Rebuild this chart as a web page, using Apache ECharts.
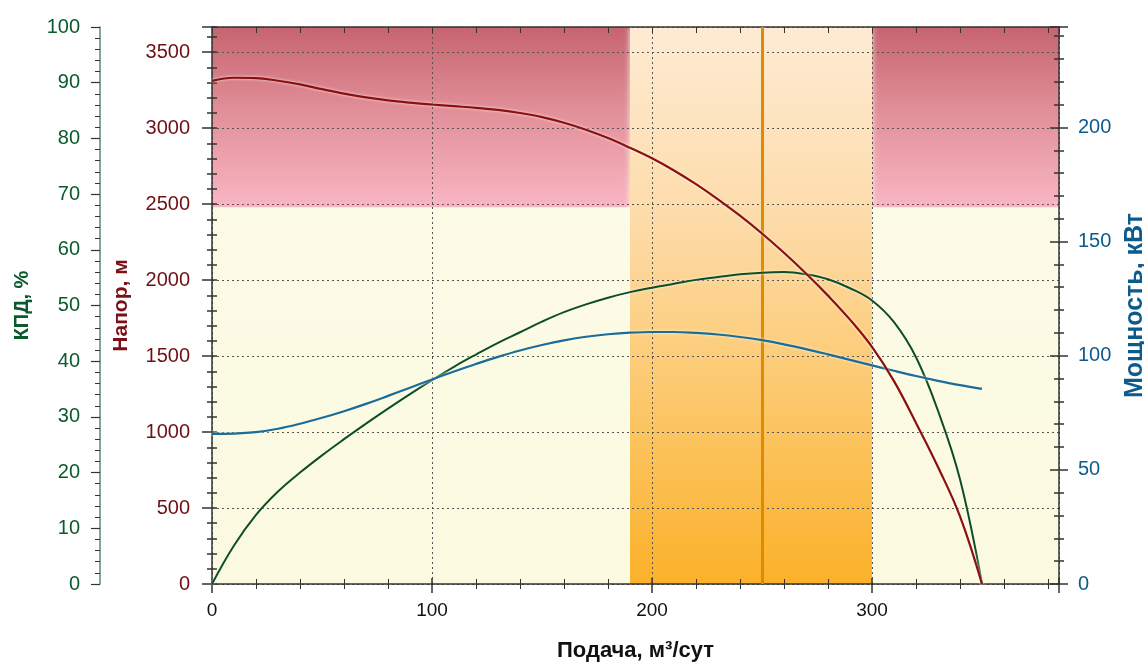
<!DOCTYPE html>
<html><head><meta charset="utf-8">
<script src="https://cdn.jsdelivr.net/npm/echarts@6/dist/echarts.min.js"></script>
<style>html,body{margin:0;padding:0;background:#fff}#c{width:1144px;height:666px}</style>
</head><body><div id="c"></div>
<script>
// ---- data ----
const flowMax = 385;
const headMax = 3666;
const effMax = 100;
const powerMax = 244;

const xTickLabels = [0, 100, 200, 300];
const headTickLabels = [0, 500, 1000, 1500, 2000, 2500, 3000, 3500];
const effTickLabels = [0, 10, 20, 30, 40, 50, 60, 70, 80, 90, 100];
const powerTickLabels = [0, 50, 100, 150, 200];

// flow points, m³/day
const flowPoints = [0, 10, 20, 30, 40, 50, 60, 70, 80, 90, 100, 110, 120, 130, 140, 150, 160, 170, 180, 190, 200,
                    210, 220, 230, 240, 250, 260, 270, 280, 290, 300, 310, 320, 330, 340, 350];
// head, m
const headValues = [3311, 3332, 3330, 3312, 3288, 3257, 3228, 3203, 3183, 3168, 3156, 3145, 3134, 3120, 3100, 3073, 3036, 2990, 2935, 2871, 2802,
                    2722, 2632, 2532, 2424, 2307, 2180, 2044, 1898, 1740, 1560, 1335, 1060, 770, 445, 0];
// efficiency, %
const effValues = [0, 6.9, 12.4, 16.6, 20.0, 23.1, 26.0, 28.8, 31.5, 34.1, 36.6, 39.0, 41.2, 43.3, 45.2, 47.1, 48.8, 50.2, 51.4, 52.4, 53.2,
                   53.9, 54.6, 55.1, 55.6, 55.9, 56.0, 55.6, 54.7, 53.1, 50.9, 47.0, 40.7, 31.1, 18.8, 0];
// power, kW
const powerValues = [65.8, 65.9, 66.5, 68.0, 70.2, 72.8, 75.7, 78.9, 82.4, 86.0, 89.6, 93.1, 96.4, 99.5, 102.3, 104.7, 106.7, 108.3, 109.4, 110.1, 110.4,
                     110.4, 110.0, 109.3, 108.2, 106.8, 105.0, 102.9, 100.6, 98.2, 95.8, 93.4, 91.1, 89.0, 87.1, 85.5];

const workZone = [190, 300];
const nominalFlow = 250;
const headLimit = 2480;

// ---- helpers ----
const pairs = (xs, ys) => ys.map((y, i) => [xs[i], y]);
const G = (stops) => new echarts.graphic.LinearGradient(0, 0, 0, 1, stops.map((c, i) => ({offset: i / (stops.length - 1), color: c})));

const FONT = 'Liberation Sans, Arial, sans-serif';
const dotted = {show: true, lineStyle: {color: '#555', width: 1, type: [2, 3]}};
const labelY = (color, ticks, margin) => ({
  color, fontSize: 20, fontFamily: FONT, margin,
  formatter: v => ticks.includes(v) ? String(v) : ''
});
const noZero = (c, w) => ({show: true, onZero: false, lineStyle: {color: c, width: w}});
const glow = {shadowColor: 'rgba(255,255,230,0.9)', shadowBlur: 3};

const chart = echarts.init(document.getElementById('c'), null, {renderer: 'canvas'});
chart.setOption({
  backgroundColor: '#ffffff',
  animation: false,
  grid: {left: 212, right: 85, top: 27, bottom: 82, containLabel: false, outerBoundsMode: 'none'},
  xAxis: [
    {
      type: 'value', min: 0, max: flowMax, interval: 100, position: 'bottom',
      name: 'Подача, м³/сут', nameLocation: 'middle', nameGap: 56,
      nameTextStyle: {color: '#111', fontSize: 22, fontWeight: 'bold', fontFamily: FONT},
      axisLine: noZero('#333', 1.5),
      axisTick: {show: true, length: 9, lineStyle: {color: '#333', width: 1.5}},
      minorTick: {show: true, splitNumber: 5, length: 5, lineStyle: {color: '#333', width: 1}},
      splitLine: dotted,
      axisLabel: {color: '#111', fontSize: 19, margin: 17, fontFamily: FONT,
        showMaxLabel: false, formatter: v => xTickLabels.includes(v) ? String(v) : ''}
    },
    {
      type: 'value', min: 0, max: flowMax, interval: 20, position: 'top',
      axisLine: noZero('#333', 1.5),
      axisTick: {show: true, inside: true, length: 6, lineStyle: {color: '#333', width: 1}},
      axisLabel: {show: false}, splitLine: {show: false}
    },
    {
      type: 'value', min: 0, max: flowMax, interval: 100, position: 'bottom',
      axisLine: {show: false, onZero: false},
      axisTick: {show: true, inside: true, length: 6, lineStyle: {color: '#333', width: 1.5}},
      minorTick: {show: true, splitNumber: 5, length: 5, lineStyle: {color: '#333', width: 1}},
      axisLabel: {show: false}, splitLine: {show: false}
    }
  ],
  yAxis: [
    {
      type: 'value', min: 0, max: headMax, interval: 500, position: 'left', offset: 0,
      name: 'Напор, м', nameLocation: 'middle', nameGap: 80, nameRotate: 90,
      nameTextStyle: {color: '#7a1016', fontSize: 21, fontWeight: 'bold', fontFamily: FONT},
      axisLine: noZero('#333', 1.5),
      axisTick: {show: true, length: 10, lineStyle: {color: '#333', width: 1.5}},
      minorTick: {show: true, splitNumber: 5, length: 5, lineStyle: {color: '#333', width: 1.5}},
      splitLine: dotted,
      axisLabel: Object.assign(labelY('#6e1016', headTickLabels, 22), {showMaxLabel: false})
    },
    {
      type: 'value', min: 0, max: effMax, interval: 10, position: 'left', offset: 112,
      name: 'КПД, %', nameLocation: 'middle', nameGap: 68, nameRotate: 90,
      nameTextStyle: {color: '#0b5a2b', fontSize: 20, fontWeight: 'bold', fontFamily: FONT},
      axisLine: noZero('#5b8a7c', 1.5),
      axisTick: {show: true, length: 9, lineStyle: {color: '#333', width: 1.2}},
      minorTick: {show: true, splitNumber: 5, length: 5, lineStyle: {color: '#333', width: 1}},
      splitLine: {show: false},
      axisLabel: labelY('#0b5a2b', effTickLabels, 20)
    },
    {
      type: 'value', min: 0, max: powerMax, interval: 50, position: 'right', offset: 0,
      name: 'Мощность, кВт', nameLocation: 'middle', nameGap: 64, nameRotate: 90,
      nameTextStyle: {color: '#0d5a8c', fontSize: 25, fontWeight: 'bold', fontFamily: FONT},
      axisLine: noZero('#333', 1.5),
      axisTick: {show: true, length: 9, lineStyle: {color: '#333', width: 1.5}},
      minorTick: {show: true, splitNumber: 5, length: 5, lineStyle: {color: '#333', width: 1.5}},
      splitLine: {show: false},
      axisLabel: Object.assign(labelY('#0d5a8c', powerTickLabels, 19), {showMaxLabel: false})
    },
    {
      type: 'value', min: 0, max: headMax, interval: 500, position: 'left', offset: 0,
      axisLine: {show: false, onZero: false},
      axisTick: {show: true, inside: true, length: 5, lineStyle: {color: '#333', width: 1.5}},
      minorTick: {show: true, splitNumber: 5, length: 5, lineStyle: {color: '#333', width: 1.5}},
      axisLabel: {show: false}, splitLine: {show: false}
    },
    {
      type: 'value', min: 0, max: powerMax, interval: 50, position: 'right', offset: 0,
      axisLine: {show: false, onZero: false},
      axisTick: {show: true, inside: true, length: 9, lineStyle: {color: '#333', width: 1.5}},
      minorTick: {show: true, splitNumber: 5, length: 5, lineStyle: {color: '#333', width: 1.5}},
      axisLabel: {show: false}, splitLine: {show: false}
    }
  ],
  series: [
    {
      name: 'Напор', type: 'line', xAxisIndex: 0, yAxisIndex: 0, smooth: 0.4, showSymbol: false, z: 4,
      data: pairs(flowPoints, headValues),
      lineStyle: Object.assign({color: '#8a0f14', width: 2.2}, glow),
      markArea: {
        silent: true, z: -1,
        data: [
          [{xAxis: 0, yAxis: 0, itemStyle: {color: G(['#fdfcea', '#fbf9df'])}}, {xAxis: flowMax, yAxis: headMax}],
          [{xAxis: 0, yAxis: headLimit, itemStyle: {color: G(['#c6646f', '#e3929c', '#f8b6c2'])}}, {xAxis: workZone[0], yAxis: headMax}],
          [{xAxis: workZone[1], yAxis: headLimit, itemStyle: {color: G(['#c6646f', '#e3929c', '#f8b6c2'])}}, {xAxis: flowMax, yAxis: headMax}],
          [{xAxis: workZone[0], yAxis: 0, itemStyle: {color: G(['#fdebd3', '#fddcab', '#fcc86c', '#fbb12a']), shadowColor: 'rgba(255,255,240,0.9)', shadowBlur: 6}}, {xAxis: workZone[1], yAxis: headMax}]
        ]
      },
      markLine: {
        silent: true, z: 1, symbol: 'none', label: {show: false},
        lineStyle: {color: '#e08a00', width: 3, type: 'solid'},
        data: [{xAxis: nominalFlow}]
      }
    },
    {
      name: 'КПД', type: 'line', xAxisIndex: 0, yAxisIndex: 1, smooth: 0.4, showSymbol: false, z: 3,
      data: pairs(flowPoints, effValues),
      lineStyle: Object.assign({color: '#0e4d2c', width: 2}, glow)
    },
    {
      name: 'Мощность', type: 'line', xAxisIndex: 0, yAxisIndex: 2, smooth: 0.4, showSymbol: false, z: 3,
      data: pairs(flowPoints, powerValues),
      lineStyle: Object.assign({color: '#1b6c98', width: 2.2}, glow)
    }
  ]
});
</script>
</body></html>
